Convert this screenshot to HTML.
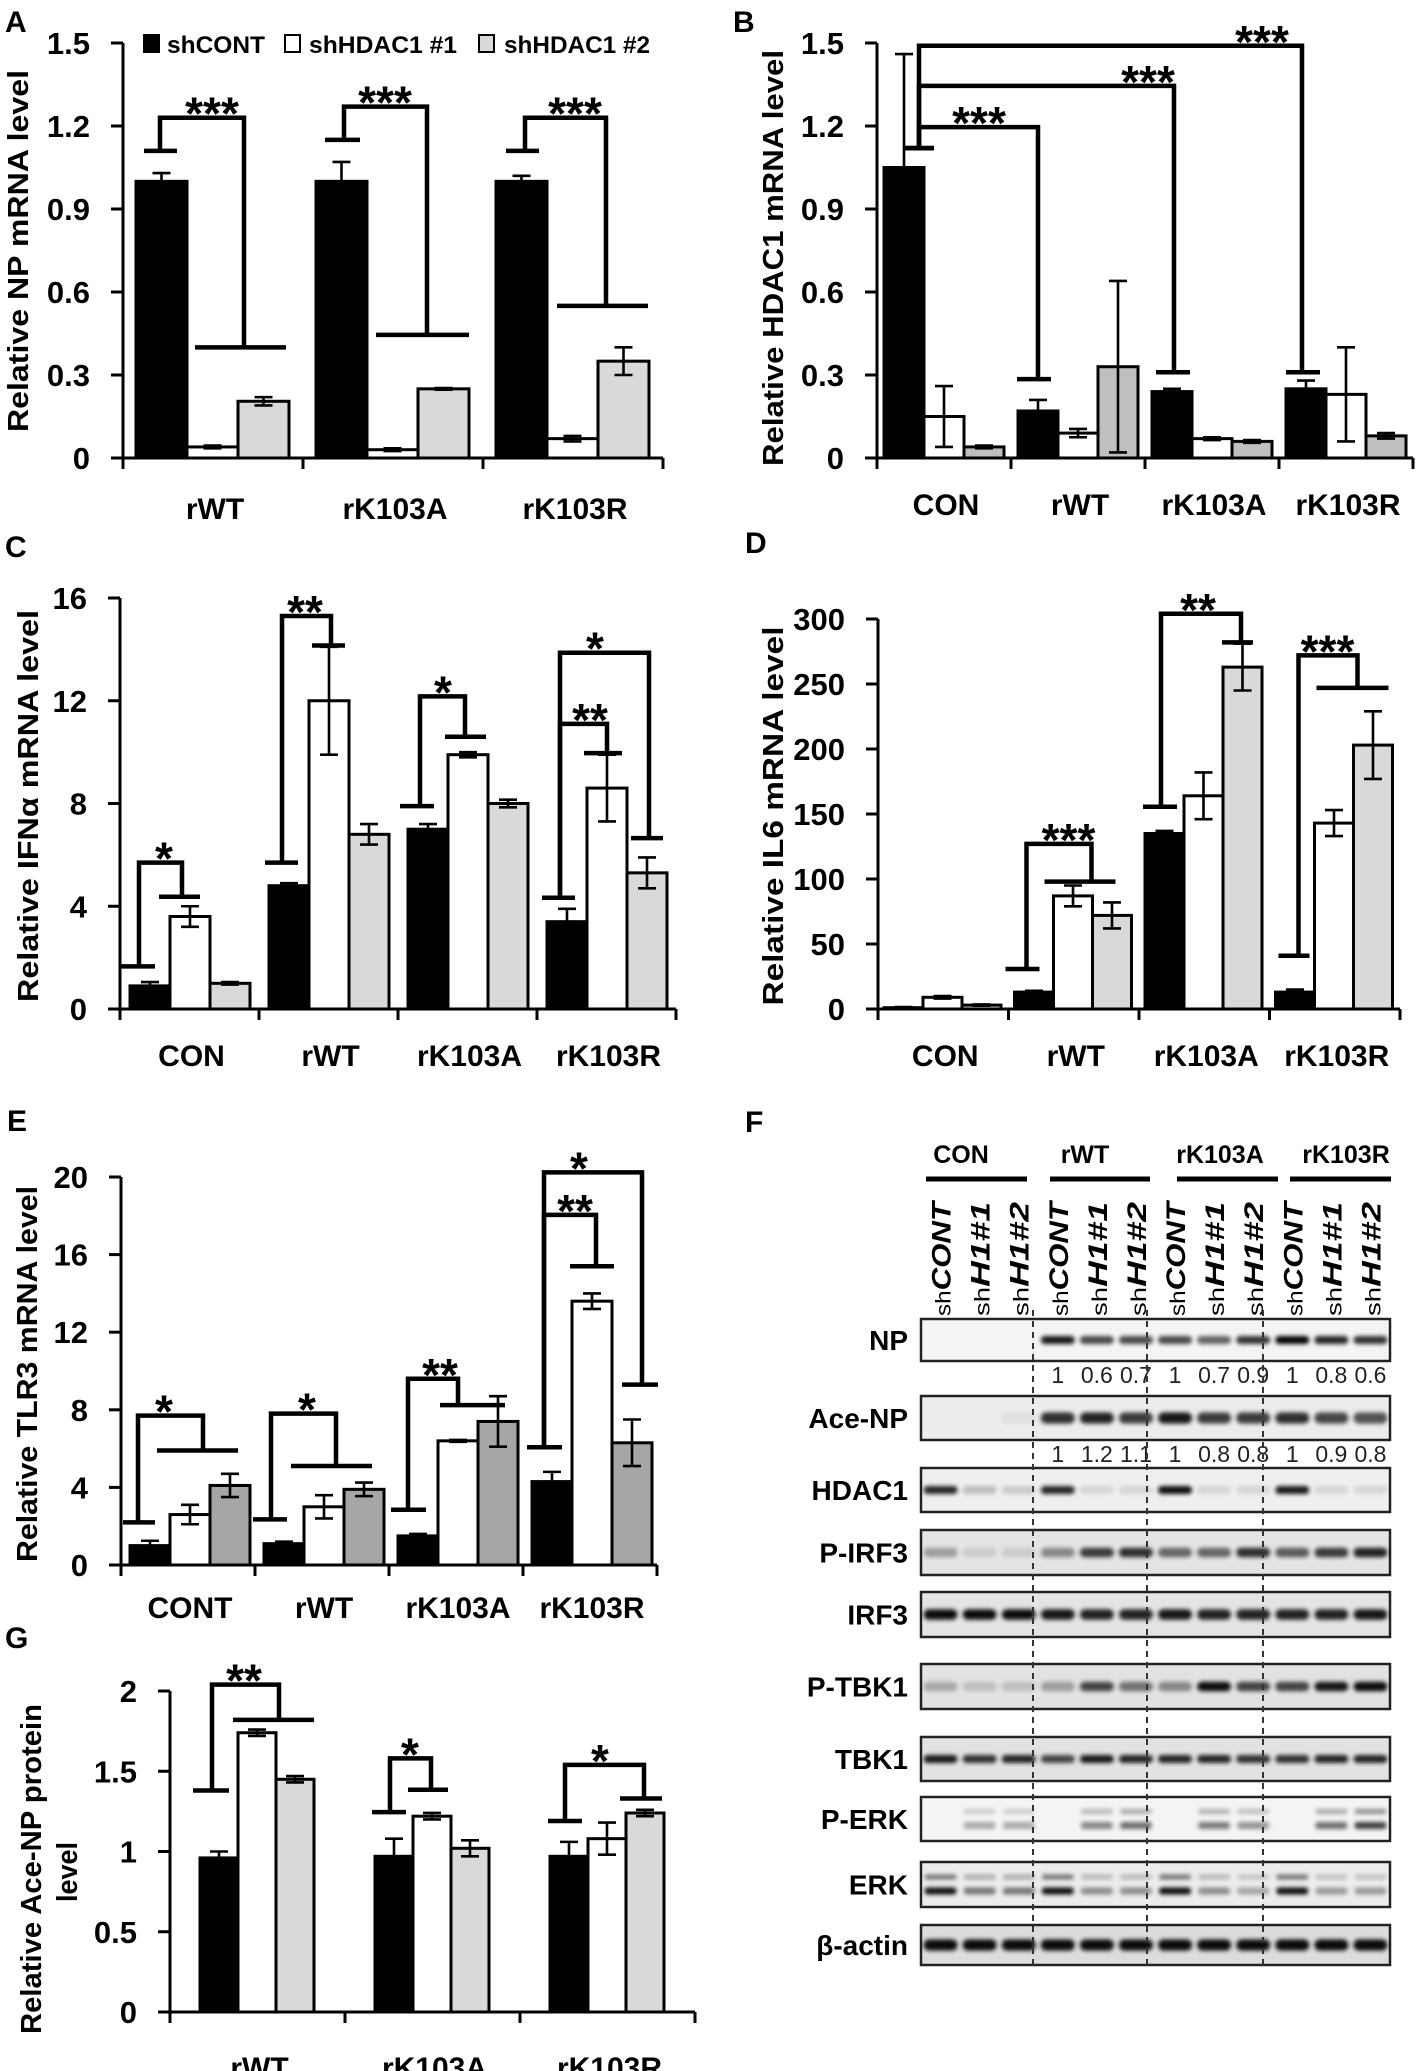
<!DOCTYPE html>
<html><head><meta charset="utf-8">
<style>
html,body{margin:0;padding:0;background:#fff;}
svg{display:block;font-family:"Liberation Sans",Arial,sans-serif;}
</style></head>
<body>
<svg id="fig" xmlns="http://www.w3.org/2000/svg" width="1417" height="2071" viewBox="0 0 1417 2071">
<defs><filter id="blur" x="-20%" y="-80%" width="140%" height="260%"><feGaussianBlur stdDeviation="2.2"/></filter></defs>
</svg>
<script>
// ---------- DATA ----------
const seriesNames = ['shCONT','shHDAC1 #1','shHDAC1 #2'];
// Panel A
const A_categories = ['rWT','rK103A','rK103R'];
const A_ticks = [0,0.3,0.6,0.9,1.2,1.5];
const A_tickLabels = ['0','0.3','0.6','0.9','1.2','1.5'];
const A_shCONT = [1.0,1.0,1.0];
const A_shCONT_err = [0.03,0.07,0.02];
const A_sh1 = [0.04,0.03,0.07];
const A_sh1_err = [0.005,0.005,0.01];
const A_sh2 = [0.205,0.25,0.35];
const A_sh2_err = [0.015,0.003,0.05];
// Panel B
const B_categories = ['CON','rWT','rK103A','rK103R'];
const B_ticks = [0,0.3,0.6,0.9,1.2,1.5];
const B_tickLabels = ['0','0.3','0.6','0.9','1.2','1.5'];
const B_shCONT = [1.05,0.17,0.24,0.25];
const B_shCONT_err = [0.41,0.04,0.01,0.03];
const B_sh1 = [0.15,0.09,0.07,0.23];
const B_sh1_err = [0.11,0.015,0.005,0.17];
const B_sh2 = [0.04,0.33,0.06,0.08];
const B_sh2_err = [0.005,0.31,0.005,0.01];
// Panel C
const C_categories = ['CON','rWT','rK103A','rK103R'];
const C_ticks = [0,4,8,12,16];
const C_tickLabels = ['0','4','8','12','16'];
const C_shCONT = [0.9,4.8,7.0,3.4];
const C_shCONT_err = [0.15,0.1,0.2,0.5];
const C_sh1 = [3.6,12.0,9.9,8.6];
const C_sh1_err = [0.4,2.1,0.1,1.3];
const C_sh2 = [1.0,6.8,8.0,5.3];
const C_sh2_err = [0.05,0.4,0.15,0.6];
// Panel D
const D_categories = ['CON','rWT','rK103A','rK103R'];
const D_ticks = [0,50,100,150,200,250,300];
const D_tickLabels = ['0','50','100','150','200','250','300'];
const D_shCONT = [1,13,135,13];
const D_shCONT_err = [0.5,1,2,2];
const D_sh1 = [9,87,164,143];
const D_sh1_err = [1,8,18,10];
const D_sh2 = [3,72,263,203];
const D_sh2_err = [0.5,10,18,26];
// Panel E
const E_categories = ['CONT','rWT','rK103A','rK103R'];
const E_ticks = [0,4,8,12,16,20];
const E_tickLabels = ['0','4','8','12','16','20'];
const E_shCONT = [1.0,1.1,1.5,4.3];
const E_shCONT_err = [0.25,0.1,0.1,0.5];
const E_sh1 = [2.6,3.0,6.4,13.6];
const E_sh1_err = [0.5,0.6,0.05,0.4];
const E_sh2 = [4.1,3.9,7.4,6.3];
const E_sh2_err = [0.6,0.35,1.3,1.2];
// Panel G
const G_categories = ['rWT','rK103A','rK103R'];
const G_ticks = [0,0.5,1,1.5,2];
const G_tickLabels = ['0','0.5','1','1.5','2'];
const G_shCONT = [0.96,0.97,0.97];
const G_shCONT_err = [0.04,0.11,0.09];
const G_sh1 = [1.74,1.22,1.08];
const G_sh1_err = [0.02,0.02,0.1];
const G_sh2 = [1.45,1.02,1.24];
const G_sh2_err = [0.02,0.05,0.02];
// Significance brackets: [group, xL, capL0, capL1, yL, yTop, xR, capR0, capR1, yR, label, starX]
const A_brackets = [[0,37,21,54,1.11,1.23,121,72,163,0.40,'***',89],[1,41,22,57,1.15,1.27,124,73,166,0.445,'***',82],[2,42,23,56,1.11,1.23,123,74,165,0.55,'***',92]];
const B_brackets = [[0,42,26,57,1.12,1.196,161,140,174,0.285,'***',102],[0,42,26,57,1.12,1.345,297,279,313,0.31,'***',271],[0,42,26,57,1.12,1.49,425,409,443,0.31,'***',385]];
const C_brackets = [[0,19,1,35,1.66,5.7,62,39,80,4.37,'*',44],[1,23,6,39,5.7,15.3,72,53,86,14.15,'**',46],[2,22,2,36,7.9,12.17,67,47,88,10.6,'*',45],[3,23,5,38,4.33,13.87,112,94,126,6.65,'*',58],[3,23,5,38,4.33,11.1,70,47,85,9.96,'**',53]];
const D_brackets = [[1,18,-3,31,30.8,127,83,36,107,98,'***',60],[2,22,4,38,155.6,304,102,83,114,282,'**',59],[3,29,9,40,41,272,88,47,119,247,'***',58]];
const E_brackets = [[0,17,2,34,2.2,7.7,82,36,117,5.9,'*',43],[1,16,-2,32,2.35,7.8,81,36,117,5.1,'*',52],[2,19,2,37,2.85,9.6,69,51,116,8.24,'**',51],[3,21,4,39,6.07,20.24,119,99,135,9.3,'*',56],[3,21,4,39,6.07,18.05,73,47,91,15.4,'**',52]];
const G_brackets = [[0,42,23,59,1.38,2.04,109,63,144,1.82,'**',74],[1,45,27,61,1.245,1.58,86,63,103,1.385,'*',65],[2,45,28,62,1.19,1.54,124,100,142,1.33,'*',80]];
// Western blot
const blotRows = ['NP','Ace-NP','HDAC1','P-IRF3','IRF3','P-TBK1','TBK1','P-ERK','ERK','β-actin'];
const blotGroups = ['CON','rWT','rK103A','rK103R'];
const blotLanes = ['shCONT','shH1#1','shH1#2'];
const NP_ratio = ['1','0.6','0.7','1','0.7','0.9','1','0.8','0.6'];
const AceNP_ratio = ['1','1.2','1.1','1','0.8','0.8','1','0.9','0.8'];
const band_NP = [0,0,0,0.9,0.7,0.7,0.7,0.6,0.8,1,0.85,0.8];
const band_AceNP = [0,0,0.05,0.8,0.85,0.75,0.9,0.75,0.75,0.8,0.7,0.65];
const band_HDAC1 = [0.85,0.2,0.15,0.85,0.1,0.1,0.95,0.1,0.1,0.9,0.1,0.1];
const band_PIRF3 = [0.3,0.1,0.1,0.4,0.75,0.8,0.55,0.55,0.8,0.6,0.75,0.85];
const band_IRF3 = [0.95,0.95,0.95,0.9,0.85,0.85,0.9,0.85,0.85,0.85,0.85,0.9];
const band_PTBK1 = [0.25,0.15,0.15,0.3,0.7,0.5,0.4,0.95,0.7,0.7,0.9,0.95];
const band_TBK1 = [0.9,0.8,0.85,0.7,0.9,0.85,0.85,0.85,0.8,0.8,0.85,0.85];
const band_PERK = [0,0.3,0.3,0,0.45,0.55,0,0.5,0.4,0,0.55,0.75];
const band_ERK = [0.95,0.5,0.5,0.95,0.4,0.4,0.95,0.4,0.3,0.95,0.35,0.35];
const band_actin = [0.95,0.95,0.95,0.95,0.95,0.95,0.95,0.95,0.95,0.95,0.95,0.95];

// ---------- DRAW ----------
const NS='http://www.w3.org/2000/svg';
const svg=document.getElementById('fig');
function el(tag,attrs,parent){const e=document.createElementNS(NS,tag);for(const k in attrs)e.setAttribute(k,attrs[k]);(parent||svg).appendChild(e);return e;}
function txt(str,attrs,parent){const t=el('text',attrs,parent);t.textContent=str;return t;}

function panelLetter(ch,x,y){
  const t=txt(ch,{x:x,y:y,'font-size':30,'font-weight':'bold'});
  
  
}

function drawPanel(p){
  const g=el('g',{});
  
  
  const ys=v=>p.y0-(v/p.yMax)*(p.y0-p.yTop);
  const n=p.cats.length;
  const xEnd=p.x0+n*p.gw;
  // bars
  const series=[p.s0,p.s1,p.s2], errs=[p.e0,p.e1,p.e2], fills=['#000','#fff',p.grey];
  for(let gi=0;gi<n;gi++){
    for(let s=0;s<3;s++){
      const v=series[s][gi];
      const x=p.x0+gi*p.gw+p.off+s*p.bw;
      const b=el('rect',{x:x,y:ys(v),width:p.bw,height:p.y0-ys(v),fill:fills[s],stroke:'#000','stroke-width':3},g);
      
      
      const cx=x+p.bw/2, e=errs[s][gi];
      const eb=el('path',{d:`M${cx},${ys(v-e)}V${ys(v+e)}M${cx-9},${ys(v+e)}H${cx+9}M${cx-9},${ys(v-e)}H${cx+9}`,stroke:'#000','stroke-width':2.6,fill:'none'},g);
      
      
    }
  }
  // axes
  const ax=el('path',{d:`M${p.x0},${p.yTop}V${p.y0}H${xEnd}`,stroke:'#000','stroke-width':3,fill:'none'},g);
  
  
  p.ticks.forEach((t,i)=>{
    const tk=el('line',{x1:p.x0-12,x2:p.x0,y1:ys(t),y2:ys(t),stroke:'#000','stroke-width':3},g);
    
    
    const tl=txt(p.tickLabels[i],{x:p.x0-33,y:ys(t)+11,'text-anchor':'end','font-size':31,'font-weight':'bold'},g);
    
    
  });
  for(let gi=0;gi<=n;gi++){
    const xx=p.x0+gi*p.gw;
    const tk=el('line',{x1:xx,x2:xx,y1:p.y0,y2:p.y0+11,stroke:'#000','stroke-width':3},g);
    
    
  }
  p.cats.forEach((c,gi)=>{
    const cl=txt(c,{x:p.x0+(gi+0.5)*p.gw+2,y:p.labY,'text-anchor':'middle','font-size':30,'font-weight':'bold'},g);
    
    
  });
  // y title
  p.titles.forEach(tt=>{
    const yt=txt(tt.text,{x:0,y:0,'font-size':tt.fs||29,'font-weight':'bold','text-anchor':'middle',textLength:tt.len,lengthAdjust:'spacingAndGlyphs','xml:space':'preserve',transform:`translate(${tt.x},${tt.cy}) rotate(-90)`},g);
    
    
  });
  // brackets
  p.brackets.forEach(br=>{
    const [gi,xL,cL0,cL1,yL,yT,xR,cR0,cR1,yR,lab,sx]=br;
    const gx=p.x0+gi*p.gw;
    const d=`M${gx+cL0},${ys(yL)}H${gx+cL1}M${gx+xL},${ys(yL)}V${ys(yT)}H${gx+xR}V${ys(yR)}M${gx+cR0},${ys(yR)}H${gx+cR1}`;
    const bp=el('path',{d:d,stroke:'#000','stroke-width':4.5,fill:'none','stroke-linejoin':'miter'},g);
    
    
    const st=txt(lab,{x:gx+sx,y:ys(yT)+12,'text-anchor':'middle','font-size':46,'font-weight':'bold'},g);
    
    
  });
}

panelLetter('A',5,32);
panelLetter('B',733,32);
panelLetter('C',5,557);
panelLetter('D',745,553);
panelLetter('E',7,1131);
panelLetter('F',745,1132);
panelLetter('G',5,1648);

drawPanel({id:'a',cats:A_categories,ticks:A_ticks,tickLabels:A_tickLabels,s0:A_shCONT,s1:A_sh1,s2:A_sh2,e0:A_shCONT_err,e1:A_sh1_err,e2:A_sh2_err,brackets:A_brackets,
  x0:123,y0:458,yTop:43,yMax:1.5,gw:180,bw:51,off:13,grey:'#d9d9d9',labY:519,
  titles:[{text:'Relative NP mRNA    level',x:28,cy:251,len:362}]});
drawPanel({id:'b',cats:B_categories,ticks:B_ticks,tickLabels:B_tickLabels,s0:B_shCONT,s1:B_sh1,s2:B_sh2,e0:B_shCONT_err,e1:B_sh1_err,e2:B_sh2_err,brackets:B_brackets,
  x0:877,y0:458,yTop:43,yMax:1.5,gw:134,bw:40,off:7,grey:'#bfbfbf',labY:515,
  titles:[{text:'Relative HDAC1 mRNA level',x:783,cy:258,len:416}]});
drawPanel({id:'c',cats:C_categories,ticks:C_ticks,tickLabels:C_tickLabels,s0:C_shCONT,s1:C_sh1,s2:C_sh2,e0:C_shCONT_err,e1:C_sh1_err,e2:C_sh2_err,brackets:C_brackets,
  x0:120,y0:1009,yTop:598,yMax:16,gw:139,bw:40,off:10,grey:'#d9d9d9',labY:1066,
  titles:[{text:'Relative IFNα mRNA   level',x:38,cy:806,len:392}]});
drawPanel({id:'d',cats:D_categories,ticks:D_ticks,tickLabels:D_tickLabels,s0:D_shCONT,s1:D_sh1,s2:D_sh2,e0:D_shCONT_err,e1:D_sh1_err,e2:D_sh2_err,brackets:D_brackets,
  x0:878,y0:1009,yTop:619,yMax:300,gw:130.5,bw:39,off:6,grey:'#d9d9d9',labY:1066,
  titles:[{text:'Relative IL6   mRNA   level',x:783,cy:816,len:379}]});
drawPanel({id:'e',cats:E_categories,ticks:E_ticks,tickLabels:E_tickLabels,s0:E_shCONT,s1:E_sh1,s2:E_sh2,e0:E_shCONT_err,e1:E_sh1_err,e2:E_sh2_err,brackets:E_brackets,
  x0:121,y0:1565,yTop:1177,yMax:20,gw:134,bw:40,off:9,grey:'#a6a6a6',labY:1618,
  titles:[{text:'Relative TLR3 mRNA level',x:37,cy:1374,len:376}]});
drawPanel({id:'g',cats:G_categories,ticks:G_ticks,tickLabels:G_tickLabels,s0:G_shCONT,s1:G_sh1,s2:G_sh2,e0:G_shCONT_err,e1:G_sh1_err,e2:G_sh2_err,brackets:G_brackets,
  x0:170,y0:2012,yTop:1691,yMax:2,gw:175,bw:38,off:30,grey:'#d9d9d9',labY:2078,
  titles:[{text:'Relative Ace-NP protein',x:41,cy:1869,len:330},{text:'level',x:77,cy:1872,len:60}]});

// legend (panel A)
(function(){
  const lg=el('g',{});
  
  
  const items=[[144,'#000',167,98],[285,'#fff',309,148],[479,'#d9d9d9',504,146]];
  items.forEach((it,i)=>{
    const sw=el('rect',{x:it[0],y:35,width:15,height:17,fill:it[1],stroke:'#000','stroke-width':2},lg);
    
    
    const t=txt(seriesNames[i],{x:it[2],y:53,'font-size':24,'font-weight':'bold',textLength:it[3],lengthAdjust:'spacingAndGlyphs'},lg);
    
    
  });
})();

// ---------- WESTERN BLOT (F) ----------
(function(){
  const bg=el('g',{});
  
  
  const L=921,R=1390,lw=(R-L)/12;
  const laneX=i=>L+lw*(i+0.5);
  // group headers
  const hdr=[[961,926,1027],[1085,1050,1150],[1220,1177,1278],[1346,1290,1391]];
  blotGroups.forEach((gname,i)=>{
    const t=txt(gname,{x:hdr[i][0],y:1163,'text-anchor':'middle','font-size':25,'font-weight':'bold'},bg);
    
    
    const u=el('line',{x1:hdr[i][1],x2:hdr[i][2],y1:1179,y2:1179,stroke:'#000','stroke-width':5},bg);
    
    
  });
  for(let i=0;i<12;i++){
    const lab=blotLanes[i%3];
    const t=el('text',{x:0,y:0,'font-size':27,'font-weight':'bold','font-style':'italic',textLength:114,lengthAdjust:'spacingAndGlyphs',transform:`translate(${laneX(i)+10},1316) rotate(-90)`},bg);
    const s1=el('tspan',{'font-size':21,'font-style':'normal','font-weight':'normal'},t); s1.textContent='sh';
    const s2=el('tspan',{},t); s2.textContent=lab.slice(2);
    
    
  }
  const rows=[
    [blotRows[0],1319,1361,band_NP,'#f4f4f4',1],
    [blotRows[1],1396,1440,band_AceNP,'#ececec',1.4],
    [blotRows[2],1468,1512,band_HDAC1,'#efefef',1],
    [blotRows[3],1530,1575,band_PIRF3,'#e4e4e4',1.2],
    [blotRows[4],1592,1637,band_IRF3,'#e4e4e4',1.3],
    [blotRows[5],1664,1709,band_PTBK1,'#e2e2e2',1.2],
    [blotRows[6],1737,1781,band_TBK1,'#e2e2e2',1],
    [blotRows[7],1797,1841,band_PERK,'#f4f4f4',0],
    [blotRows[8],1862,1907,band_ERK,'#ececec',0],
    [blotRows[9],1925,1965,band_actin,'#dcdcdc',1.4]
  ];
  rows.forEach(r=>{
    const [name,y1,y2,vals,fill,thick]=r;
    const cy=(y1+y2)/2;
    const box=el('rect',{x:L,y:y1,width:R-L,height:y2-y1,fill:fill,stroke:'#222','stroke-width':2.5},bg);
    
    
    const lb=txt(name,{x:908,y:cy+10,'text-anchor':'end','font-size':28,'font-weight':'bold'},bg);
    
    
    vals.forEach((v,i)=>{
      if(v<=0)return;
      if(thick===0){
        const b1=el('rect',{x:laneX(i)-16,y:cy-10,width:32,height:5,rx:2.5,fill:'#000',opacity:v*0.55,filter:'url(#blur)'},bg);
        
        
        const b2=el('rect',{x:laneX(i)-16,y:cy+3,width:32,height:7,rx:3,fill:'#000',opacity:v,filter:'url(#blur)'},bg);
        
        
      } else {
        const h=8*thick;
        const b=el('rect',{x:laneX(i)-17,y:cy-h/2,width:34,height:h,rx:h/2,fill:'#000',opacity:v,filter:'url(#blur)'},bg);
        
        
      }
    });
  });
  NP_ratio.forEach((v,i)=>{
    const t=txt(v,{x:laneX(i+3),y:1383,'text-anchor':'middle','font-size':23,fill:'#222'},bg);
    
    
  });
  AceNP_ratio.forEach((v,i)=>{
    const t=txt(v,{x:laneX(i+3),y:1462,'text-anchor':'middle','font-size':23,fill:'#222'},bg);
    
    
  });
  [1033,1147,1263].forEach(x=>{
    const d=el('line',{x1:x,x2:x,y1:1310,y2:1965,stroke:'#333','stroke-width':2,'stroke-dasharray':'6,5'},bg);
    
    
  });
})();
</script>
</body></html>
